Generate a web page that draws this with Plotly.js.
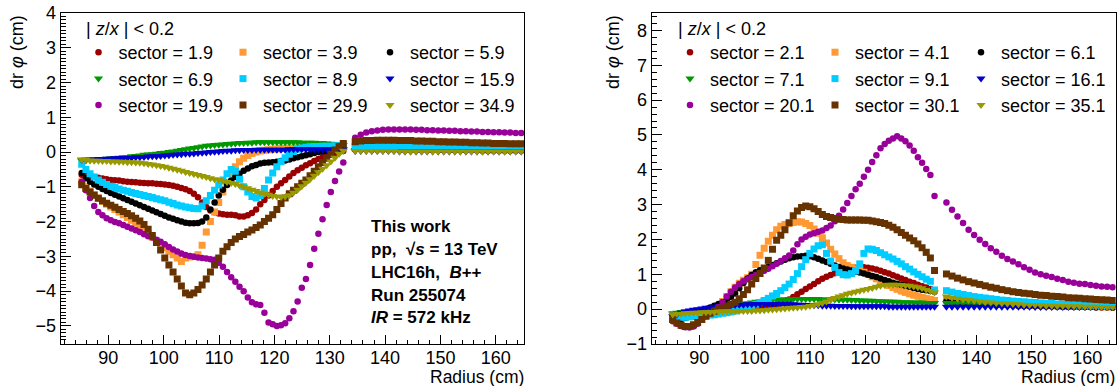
<!DOCTYPE html>
<html><head><meta charset="utf-8">
<script src="https://cdn.plot.ly/plotly-3.0.1.min.js"></script>
<style>html,body{margin:0;padding:0;background:#fff}#chart{width:1118px;height:386px}</style>
</head><body><div id="chart"></div>
<script>
// Radius of the points (cm): inner chamber rows then outer chamber rows
const radius = [
 85.2, 85.95, 86.7, 87.45, 88.2, 88.95, 89.7, 90.45,
 91.2, 91.95, 92.7, 93.45, 94.2, 94.95, 95.7, 96.45,
 97.2, 97.95, 98.7, 99.45, 100.2, 100.95, 101.7, 102.45,
 103.2, 103.95, 104.7, 105.45, 106.2, 106.95, 107.7, 108.45,
 109.2, 109.95, 110.7, 111.45, 112.2, 112.95, 113.7, 114.45,
 115.2, 115.95, 116.7, 117.45, 118.2, 118.95, 119.7, 120.45,
 121.2, 121.95, 122.7, 123.45, 124.2, 124.95, 125.7, 126.45,
 127.2, 127.95, 128.7, 129.45, 130.2, 130.95, 131.7, 132.45,
 134.6, 135.6, 136.6, 137.6, 138.6, 139.6, 140.6, 141.6,
 142.6, 143.6, 144.6, 145.6, 146.6, 147.6, 148.6, 149.6,
 150.6, 151.6, 152.6, 153.6, 154.6, 155.6, 156.6, 157.6,
 158.6, 159.6, 160.6, 161.6, 162.6, 163.6, 164.6
];

// Legend labels
const leftSectors  = ['1.9','3.9','5.9','6.9','8.9','15.9','19.9','29.9','34.9'];
const rightSectors = ['2.1','4.1','6.1','7.1','9.1','16.1','20.1','30.1','35.1'];

// ---------- Left panel: dr phi (cm) ----------
const left_1p9 = [
 -0.65,-0.68,-0.70,-0.72,-0.74,-0.76,-0.78,-0.80,
 -0.81,-0.82,-0.84,-0.85,-0.86,-0.87,-0.88,-0.89,
 -0.90,-0.90,-0.91,-0.92,-0.93,-0.95,-0.97,-1.00,
 -1.03,-1.07,-1.12,-1.20,-1.30,-1.45,-1.58,-1.68,
 -1.73,-1.77,-1.79,-1.80,-1.80,-1.82,-1.85,-1.85,
 -1.82,-1.75,-1.65,-1.50,-1.38,-1.25,-1.12,-1.00,
 -0.90,-0.80,-0.70,-0.60,-0.52,-0.45,-0.38,-0.32,
 -0.26,-0.20,-0.15,-0.11,-0.07,-0.03,0.00,0.03,
 0.08,0.08,0.08,0.07,0.07,0.07,0.07,0.07,
 0.06,0.06,0.06,0.06,0.06,0.06,0.06,0.05,
 0.05,0.05,0.05,0.05,0.05,0.05,0.05,0.04,
 0.04,0.04,0.04,0.04,0.04,0.04,0.04
];
const left_3p9 = [
 -0.85,-1.00,-1.12,-1.22,-1.32,-1.42,-1.50,-1.58,
 -1.65,-1.72,-1.80,-1.88,-1.96,-2.05,-2.15,-2.25,
 -2.35,-2.45,-2.55,-2.65,-2.75,-2.85,-2.95,-3.05,
 -3.15,-3.05,-3.02,-3.00,-2.95,-2.68,-2.30,-2.00,
 -1.72,-1.45,-1.15,-0.88,-0.62,-0.42,-0.28,-0.18,
 -0.10,-0.04,0.00,0.03,0.05,0.07,0.08,0.09,
 0.10,0.11,0.11,0.12,0.12,0.13,0.13,0.13,
 0.14,0.14,0.14,0.15,0.15,0.15,0.15,0.15,
 0.12,0.12,0.12,0.12,0.12,0.12,0.12,0.12,
 0.11,0.11,0.11,0.11,0.11,0.11,0.11,0.11,
 0.10,0.10,0.10,0.10,0.10,0.10,0.10,0.10,
 0.09,0.09,0.09,0.09,0.09,0.09,0.09
];
const left_5p9 = [
 -0.60,-0.75,-0.85,-0.93,-1.00,-1.06,-1.12,-1.18,
 -1.23,-1.28,-1.33,-1.38,-1.43,-1.48,-1.53,-1.58,
 -1.63,-1.68,-1.73,-1.78,-1.83,-1.88,-1.92,-1.96,
 -2.00,-2.03,-2.05,-2.05,-2.04,-2.00,-1.88,-1.65,
 -1.45,-1.25,-1.08,-0.95,-0.82,-0.72,-0.62,-0.54,
 -0.47,-0.41,-0.37,-0.33,-0.31,-0.30,-0.29,-0.28,
 -0.26,-0.24,-0.21,-0.18,-0.15,-0.12,-0.09,-0.06,
 -0.03,0.00,0.02,0.04,0.06,0.07,0.08,0.10,
 0.08,0.08,0.08,0.08,0.08,0.08,0.08,0.08,
 0.07,0.07,0.07,0.07,0.07,0.07,0.07,0.07,
 0.07,0.07,0.07,0.07,0.07,0.07,0.07,0.07,
 0.06,0.06,0.06,0.06,0.06,0.06,0.06
];
const left_6p9 = [
 -0.25,-0.24,-0.23,-0.22,-0.21,-0.20,-0.19,-0.18,
 -0.17,-0.16,-0.15,-0.14,-0.12,-0.11,-0.10,-0.08,
 -0.07,-0.06,-0.05,-0.03,-0.02,0.00,0.02,0.04,
 0.06,0.08,0.10,0.12,0.14,0.16,0.18,0.19,
 0.20,0.21,0.22,0.23,0.24,0.25,0.26,0.26,
 0.27,0.27,0.28,0.28,0.28,0.28,0.28,0.28,
 0.28,0.28,0.28,0.28,0.28,0.27,0.27,0.27,
 0.27,0.26,0.26,0.25,0.24,0.23,0.22,0.20,
 0.06,0.06,0.06,0.06,0.06,0.06,0.06,0.06,
 0.06,0.06,0.06,0.06,0.06,0.06,0.06,0.06,
 0.05,0.05,0.05,0.05,0.05,0.05,0.05,0.05,
 0.05,0.05,0.05,0.05,0.05,0.05,0.05
];
const left_8p9 = [
 -0.35,-0.50,-0.62,-0.72,-0.80,-0.87,-0.93,-0.98,
 -1.02,-1.06,-1.10,-1.13,-1.16,-1.19,-1.22,-1.25,
 -1.28,-1.31,-1.34,-1.37,-1.40,-1.44,-1.48,-1.52,
 -1.55,-1.58,-1.60,-1.62,-1.63,-1.55,-1.40,-1.25,
 -1.10,-0.95,-0.80,-0.62,-0.50,-0.55,-0.78,-1.00,
 -1.15,-1.28,-1.32,-1.25,-1.05,-0.80,-0.60,-0.42,
 -0.28,-0.16,-0.06,0.02,0.08,0.12,0.14,0.15,
 0.16,0.16,0.17,0.17,0.17,0.18,0.18,0.20,
 0.17,0.17,0.17,0.16,0.16,0.16,0.16,0.16,
 0.15,0.15,0.15,0.15,0.15,0.15,0.15,0.15,
 0.15,0.15,0.15,0.15,0.15,0.15,0.15,0.15,
 0.14,0.14,0.14,0.14,0.14,0.14,0.14
];
const left_15p9 = [
 -0.22,-0.22,-0.21,-0.21,-0.20,-0.20,-0.19,-0.19,
 -0.18,-0.18,-0.17,-0.17,-0.16,-0.15,-0.15,-0.14,
 -0.13,-0.12,-0.12,-0.11,-0.10,-0.09,-0.08,-0.07,
 -0.06,-0.05,-0.05,-0.04,-0.03,-0.02,-0.01,0.00,
 0.01,0.02,0.03,0.04,0.04,0.05,0.05,0.06,
 0.06,0.06,0.07,0.07,0.07,0.07,0.07,0.07,
 0.07,0.07,0.08,0.08,0.08,0.08,0.08,0.08,
 0.08,0.08,0.08,0.08,0.08,0.08,0.08,0.08,
 0.03,0.03,0.03,0.03,0.03,0.03,0.03,0.03,
 0.02,0.02,0.02,0.02,0.02,0.02,0.02,0.02,
 0.02,0.02,0.02,0.02,0.02,0.02,0.02,0.02,
 0.02,0.02,0.02,0.02,0.02,0.02,0.02
];
const left_19p9 = [
 -0.85,-1.10,-1.32,-1.55,-1.72,-1.82,-1.90,-1.96,
 -2.01,-2.05,-2.10,-2.15,-2.20,-2.25,-2.30,-2.36,
 -2.42,-2.46,-2.52,-2.58,-2.65,-2.73,-2.80,-2.86,
 -2.92,-2.96,-2.99,-3.01,-3.03,-3.05,-3.06,-3.08,
 -3.10,-3.18,-3.30,-3.45,-3.60,-3.73,-3.87,-4.00,
 -4.18,-4.32,-4.38,-4.40,-4.62,-4.90,-4.95,-5.00,
 -4.98,-4.92,-4.78,-4.58,-4.30,-3.90,-3.65,-3.25,
 -2.78,-2.35,-1.93,-1.52,-1.15,-0.83,-0.56,-0.30,
 0.41,0.50,0.56,0.60,0.62,0.64,0.65,0.65,
 0.65,0.65,0.65,0.64,0.64,0.63,0.63,0.62,
 0.62,0.61,0.61,0.60,0.60,0.59,0.59,0.58,
 0.58,0.57,0.57,0.56,0.56,0.55,0.55
];
const left_29p9 = [
 -0.94,-1.05,-1.15,-1.24,-1.33,-1.40,-1.47,-1.53,
 -1.59,-1.65,-1.71,-1.77,-1.83,-1.90,-1.98,-2.08,
 -2.22,-2.40,-2.60,-2.82,-3.05,-3.25,-3.45,-3.65,
 -3.85,-4.05,-4.10,-4.05,-3.95,-3.82,-3.65,-3.45,
 -3.25,-3.05,-2.85,-2.72,-2.60,-2.50,-2.43,-2.37,
 -2.30,-2.24,-2.17,-2.10,-2.00,-1.90,-1.80,-1.65,
 -1.48,-1.32,-1.20,-1.10,-1.00,-0.90,-0.80,-0.68,
 -0.55,-0.42,-0.30,-0.18,-0.06,0.06,0.16,0.25,
 0.30,0.32,0.33,0.33,0.34,0.34,0.34,0.34,
 0.33,0.33,0.33,0.32,0.32,0.31,0.31,0.30,
 0.30,0.29,0.29,0.28,0.28,0.27,0.27,0.26,
 0.26,0.25,0.25,0.25,0.24,0.24,0.24
];
const left_34p9 = [
 -0.22,-0.23,-0.24,-0.25,-0.25,-0.26,-0.26,-0.27,
 -0.27,-0.28,-0.28,-0.29,-0.29,-0.30,-0.31,-0.32,
 -0.34,-0.36,-0.38,-0.40,-0.42,-0.45,-0.48,-0.51,
 -0.54,-0.57,-0.60,-0.63,-0.66,-0.69,-0.72,-0.75,
 -0.78,-0.80,-0.83,-0.86,-0.89,-0.92,-0.96,-1.00,
 -1.04,-1.08,-1.12,-1.16,-1.20,-1.23,-1.26,-1.28,
 -1.29,-1.28,-1.24,-1.17,-1.08,-0.98,-0.88,-0.78,
 -0.68,-0.58,-0.48,-0.38,-0.27,-0.16,-0.05,0.04,
 0.03,0.03,0.03,0.03,0.03,0.03,0.03,0.03,
 0.02,0.02,0.02,0.02,0.02,0.02,0.02,0.02,
 0.02,0.02,0.02,0.02,0.02,0.02,0.02,0.02,
 0.02,0.02,0.02,0.02,0.02,0.02,0.02
];

// ---------- Right panel: dr phi (cm) ----------
const right_2p1 = [
 -0.30,-0.25,-0.20,-0.16,-0.13,-0.10,-0.08,-0.06,
 -0.05,-0.04,-0.03,-0.02,-0.01,0.00,0.00,0.01,
 0.01,0.02,0.02,0.03,0.04,0.05,0.06,0.08,
 0.10,0.13,0.17,0.22,0.28,0.35,0.43,0.50,
 0.58,0.65,0.72,0.80,0.87,0.93,0.98,1.03,
 1.07,1.11,1.14,1.17,1.19,1.20,1.20,1.19,
 1.17,1.14,1.10,1.06,1.02,0.97,0.93,0.88,
 0.84,0.79,0.75,0.70,0.66,0.62,0.58,0.54,
 0.25,0.23,0.21,0.20,0.18,0.17,0.16,0.15,
 0.14,0.13,0.12,0.12,0.11,0.10,0.10,0.09,
 0.09,0.08,0.08,0.08,0.07,0.07,0.07,0.06,
 0.06,0.06,0.06,0.05,0.05,0.05,0.05
];
const right_4p1 = [
 -0.30,-0.30,-0.28,-0.25,-0.22,-0.18,-0.14,-0.10,
 -0.06,-0.02,0.03,0.09,0.22,0.36,0.50,0.63,
 0.74,0.83,0.90,1.00,1.28,1.55,1.75,1.95,
 2.12,2.28,2.38,2.43,2.46,2.49,2.51,2.50,
 2.46,2.40,2.30,2.18,2.05,1.90,1.72,1.58,
 1.45,1.33,1.25,1.20,1.16,1.12,1.06,1.00,
 0.93,0.87,0.80,0.74,0.68,0.62,0.57,0.52,
 0.48,0.44,0.40,0.37,0.34,0.31,0.28,0.25,
 0.30,0.28,0.26,0.24,0.22,0.20,0.19,0.18,
 0.17,0.16,0.15,0.14,0.13,0.13,0.12,0.12,
 0.11,0.11,0.10,0.10,0.10,0.09,0.09,0.09,
 0.08,0.08,0.08,0.08,0.07,0.07,0.07
];
const right_6p1 = [
 -0.30,-0.30,-0.28,-0.25,-0.20,-0.15,-0.10,-0.05,
 0.00,0.05,0.10,0.15,0.20,0.27,0.35,0.45,
 0.60,0.75,0.88,0.98,1.06,1.12,1.17,1.22,
 1.27,1.32,1.37,1.42,1.46,1.49,1.51,1.52,
 1.53,1.52,1.49,1.45,1.40,1.35,1.30,1.25,
 1.21,1.17,1.14,1.11,1.08,1.05,1.02,0.99,
 0.95,0.92,0.88,0.84,0.80,0.76,0.73,0.70,
 0.67,0.64,0.61,0.58,0.56,0.54,0.52,0.50,
 0.22,0.20,0.19,0.18,0.17,0.16,0.15,0.14,
 0.13,0.12,0.12,0.11,0.11,0.10,0.10,0.09,
 0.09,0.09,0.08,0.08,0.08,0.07,0.07,0.07,
 0.07,0.06,0.06,0.06,0.06,0.06,0.05
];
const right_7p1 = [
 -0.12,-0.10,-0.08,-0.07,-0.05,-0.04,-0.03,-0.02,
 -0.01,0.00,0.01,0.03,0.05,0.07,0.09,0.11,
 0.13,0.15,0.17,0.19,0.21,0.22,0.24,0.25,
 0.26,0.27,0.28,0.28,0.29,0.29,0.29,0.29,
 0.29,0.29,0.29,0.29,0.28,0.28,0.28,0.28,
 0.27,0.27,0.27,0.26,0.26,0.25,0.25,0.24,
 0.24,0.23,0.23,0.22,0.22,0.21,0.21,0.20,
 0.20,0.20,0.19,0.19,0.19,0.18,0.18,0.18,
 0.18,0.17,0.17,0.16,0.16,0.15,0.15,0.15,
 0.14,0.14,0.14,0.13,0.13,0.13,0.13,0.12,
 0.12,0.12,0.12,0.12,0.11,0.11,0.11,0.11,
 0.11,0.10,0.10,0.10,0.10,0.10,0.10
];
const right_9p1 = [
 -0.20,-0.22,-0.23,-0.23,-0.22,-0.21,-0.20,-0.19,
 -0.18,-0.17,-0.16,-0.14,-0.12,-0.10,-0.08,-0.05,
 -0.02,0.02,0.06,0.10,0.14,0.19,0.25,0.31,
 0.38,0.45,0.53,0.62,0.72,0.85,1.02,1.22,
 1.42,1.60,1.73,1.82,1.85,1.60,1.38,1.20,
 1.05,0.99,0.98,1.02,1.10,1.30,1.60,1.73,
 1.72,1.68,1.62,1.56,1.50,1.44,1.37,1.30,
 1.22,1.15,1.07,1.00,0.93,0.86,0.80,0.55,
 0.53,0.49,0.45,0.42,0.39,0.36,0.34,0.32,
 0.30,0.28,0.26,0.25,0.23,0.22,0.21,0.20,
 0.19,0.18,0.17,0.16,0.15,0.14,0.14,0.13,
 0.12,0.12,0.11,0.11,0.10,0.10,0.10
];
const right_16p1 = [
 -0.20,-0.15,-0.10,-0.07,-0.04,-0.02,0.00,0.02,
 0.04,0.05,0.07,0.08,0.09,0.10,0.11,0.12,
 0.13,0.13,0.14,0.14,0.15,0.15,0.15,0.15,
 0.15,0.15,0.15,0.14,0.14,0.14,0.13,0.13,
 0.12,0.12,0.11,0.11,0.10,0.10,0.10,0.09,
 0.09,0.09,0.09,0.08,0.08,0.08,0.08,0.08,
 0.08,0.08,0.08,0.08,0.07,0.07,0.07,0.07,
 0.07,0.07,0.07,0.07,0.07,0.07,0.07,0.07,
 0.07,0.07,0.07,0.07,0.07,0.07,0.07,0.07,
 0.07,0.07,0.07,0.07,0.07,0.07,0.07,0.07,
 0.06,0.06,0.06,0.06,0.06,0.06,0.06,0.06,
 0.06,0.06,0.06,0.06,0.06,0.06,0.06
];
const right_20p1 = [
 -0.35,-0.42,-0.48,-0.52,-0.53,-0.50,-0.42,-0.30,
 -0.20,-0.12,-0.04,0.06,0.20,0.36,0.50,0.62,
 0.72,0.80,0.86,0.92,0.98,1.04,1.10,1.16,
 1.23,1.30,1.38,1.46,1.54,1.68,1.86,2.00,
 2.08,2.14,2.18,2.22,2.26,2.33,2.40,2.52,
 2.68,2.86,3.05,3.25,3.44,3.60,3.80,4.00,
 4.22,4.42,4.62,4.74,4.83,4.90,4.96,4.90,
 4.82,4.70,4.55,4.36,4.20,4.02,3.85,3.25,
 3.06,2.85,2.66,2.47,2.28,2.13,1.99,1.87,
 1.75,1.65,1.53,1.44,1.37,1.29,1.20,1.13,
 1.05,1.00,0.96,0.92,0.87,0.84,0.79,0.76,
 0.73,0.72,0.69,0.67,0.65,0.64,0.63
];
const right_30p1 = [
 -0.30,-0.40,-0.46,-0.50,-0.50,-0.45,-0.38,-0.30,
 -0.20,-0.12,-0.06,0.00,0.03,0.08,0.14,0.20,
 0.30,0.42,0.56,0.72,0.88,1.02,1.18,1.40,
 1.72,1.98,2.12,2.28,2.48,2.68,2.82,2.92,
 2.96,2.94,2.88,2.80,2.72,2.66,2.63,2.60,
 2.58,2.57,2.56,2.56,2.56,2.56,2.55,2.55,
 2.53,2.51,2.49,2.46,2.41,2.35,2.28,2.20,
 2.12,2.04,1.96,1.87,1.76,1.63,1.47,1.11,
 1.01,0.95,0.89,0.84,0.79,0.75,0.71,0.67,
 0.63,0.60,0.56,0.53,0.50,0.48,0.46,0.44,
 0.42,0.40,0.39,0.37,0.36,0.35,0.33,0.32,
 0.31,0.30,0.29,0.28,0.27,0.26,0.25
];
const right_35p1 = [
 -0.15,-0.14,-0.13,-0.12,-0.11,-0.10,-0.10,-0.09,
 -0.09,-0.08,-0.08,-0.07,-0.07,-0.06,-0.06,-0.06,
 -0.05,-0.05,-0.05,-0.05,-0.04,-0.04,-0.03,-0.02,
 -0.01,0.00,0.01,0.02,0.03,0.04,0.05,0.06,
 0.07,0.09,0.11,0.14,0.18,0.22,0.27,0.32,
 0.36,0.40,0.44,0.47,0.50,0.53,0.56,0.58,
 0.61,0.64,0.67,0.69,0.70,0.70,0.70,0.69,
 0.68,0.67,0.65,0.63,0.60,0.56,0.52,0.48,
 0.36,0.33,0.30,0.28,0.26,0.24,0.22,0.20,
 0.19,0.18,0.17,0.16,0.15,0.14,0.13,0.12,
 0.12,0.11,0.10,0.10,0.09,0.09,0.08,0.08,
 0.08,0.07,0.07,0.07,0.06,0.06,0.06
];

const leftSeries  = [left_1p9, left_3p9, left_5p9, left_6p9, left_8p9, left_15p9, left_19p9, left_29p9, left_34p9];
const rightSeries = [right_2p1, right_4p1, right_6p1, right_7p1, right_9p1, right_16p1, right_20p1, right_30p1, right_35p1];

[...leftSeries, ...rightSeries].forEach((s, i) => {
  if (s.length !== radius.length) throw new Error('series ' + i + ' has length ' + s.length + ' vs ' + radius.length);
});

// styles (ROOT-like)
const colors  = ['#990000','#ff9933','#000000','#009900','#00ccff','#0000cc','#990099','#663300','#999900'];
const symbols = ['circle','square','circle','triangle-down','square','triangle-down','circle','square','triangle-down'];
const sizes   = [6.5, 7, 6.5, 8, 7, 8, 6.5, 7, 8];
const FONT = 'Liberation Sans, Arial, Helvetica, sans-serif';

const traces = [];
function addPanel(series, labels, xa, ya, legendIds) {
  series.forEach((y, k) => {
    traces.push({
      type: 'scatter', mode: 'markers',
      x: radius, y: y, xaxis: xa, yaxis: ya,
      name: 'sector = ' + labels[k],
      legend: legendIds[k % 3],
      marker: { color: colors[k], symbol: symbols[k], size: sizes[k], line: { width: 0 } },
      hoverinfo: 'skip'
    });
  });
}
addPanel(leftSeries, leftSectors, 'x', 'y', ['legend', 'legend2', 'legend3']);
addPanel(rightSeries, rightSectors, 'x2', 'y2', ['legend4', 'legend5', 'legend6']);

const W = 1118, H = 386, T = 13, B = 42;
const plotH = H - T - B;
const px = v => v / W;
const py = v => (H - B - v) / plotH;

function xAxis(domain, anchor) {
  return {
    domain: domain, anchor: anchor, range: [81.4, 165.15],
    showline: true, mirror: true, linecolor: '#000', linewidth: 1,
    ticks: 'inside', ticklen: 9, tickwidth: 1, tickcolor: '#000',
    tick0: 0, dtick: 10, showgrid: false, zeroline: false,
    minor: { ticks: 'inside', ticklen: 4.5, dtick: 2, tickcolor: '#000', tickwidth: 1, showgrid: false },
    tickfont: { family: FONT, size: 18, color: '#000' },
    ticklabelstandoff: -3,
    fixedrange: true
  };
}
function yAxis(range, anchor, minorD) {
  return {
    domain: [0, 1], anchor: anchor, range: range,
    showline: true, mirror: true, linecolor: '#000', linewidth: 1,
    ticks: 'inside', ticklen: 10, tickwidth: 1, tickcolor: '#000',
    tick0: 0, dtick: 1, showgrid: false, zeroline: false,
    minor: { ticks: 'inside', ticklen: 5, dtick: minorD, tickcolor: '#000', tickwidth: 1, showgrid: false },
    tickfont: { family: FONT, size: 18, color: '#000' },
    fixedrange: true
  };
}

function legendAt(xPix) {
  return {
    x: px(xPix), xref: 'paper', xanchor: 'left',
    y: py(34), yref: 'paper', yanchor: 'top',
    bgcolor: 'rgba(0,0,0,0)', borderwidth: 0,
    font: { family: FONT, size: 18, color: '#000' },
    tracegroupgap: 0, itemsizing: 'trace', itemclick: false, itemdoubleclick: false
  };
}

const annotations = [];
function txt(text, xPix, yPix, opts) {
  annotations.push(Object.assign({
    text: text, xref: 'paper', yref: 'paper', x: px(xPix), y: py(yPix),
    showarrow: false, xanchor: 'left', yanchor: 'middle',
    font: { family: FONT, size: 18, color: '#000' }
  }, opts || {}));
}
txt('dr <i>φ</i> (cm)', 17, T, { xanchor: 'center', yanchor: 'top', textangle: -90 });
txt('dr <i>φ</i> (cm)', 613, T, { xanchor: 'center', yanchor: 'top', textangle: -90 });
const xt = { xanchor: 'right', yanchor: 'bottom', borderpad: 0, font: { family: FONT, size: 17.5, color: '#000' } };
txt('Radius (cm)', 525, 388, xt);
txt('Radius (cm)', 1116, 388, xt);
txt('| <i>z</i>/<i>x</i> | < 0.2', 84, 29);
txt('| <i>z</i>/<i>x</i> | < 0.2', 676, 29);
const bold = { font: { family: FONT, size: 17, color: '#000' } };
txt('<b>This work</b>', 369, 226, bold);
txt('<b>pp,  √<i>s</i> = 13 TeV</b>', 369, 249, bold);
txt('<b>LHC16h,  <i>B</i>++</b>', 369, 272, bold);
txt('<b>Run 255074</b>', 369, 295, bold);
txt('<b><i>IR</i> = 572 kHz</b>', 369, 317, bold);

const layout = {
  width: W, height: H,
  margin: { l: 0, r: 0, t: T, b: B, pad: 0 },
  paper_bgcolor: '#fff', plot_bgcolor: '#fff',
  showlegend: true,
  xaxis: xAxis([px(60.7), px(524.3)], 'y'),
  yaxis: yAxis([-5.52, 4.0], 'x', 0.1),
  xaxis2: xAxis([px(651.7), px(1115.7)], 'y2'),
  yaxis2: yAxis([-1, 8.5], 'x2', 0.2),
  legend: legendAt(78.5),
  legend2: legendAt(223),
  legend3: legendAt(370),
  legend4: legendAt(670),
  legend5: legendAt(815),
  legend6: legendAt(961),
  annotations: annotations,
  font: { family: FONT, color: '#000' }
};

Plotly.newPlot('chart', traces, layout, { staticPlot: true, displayModeBar: false });
</script>
</body></html>
